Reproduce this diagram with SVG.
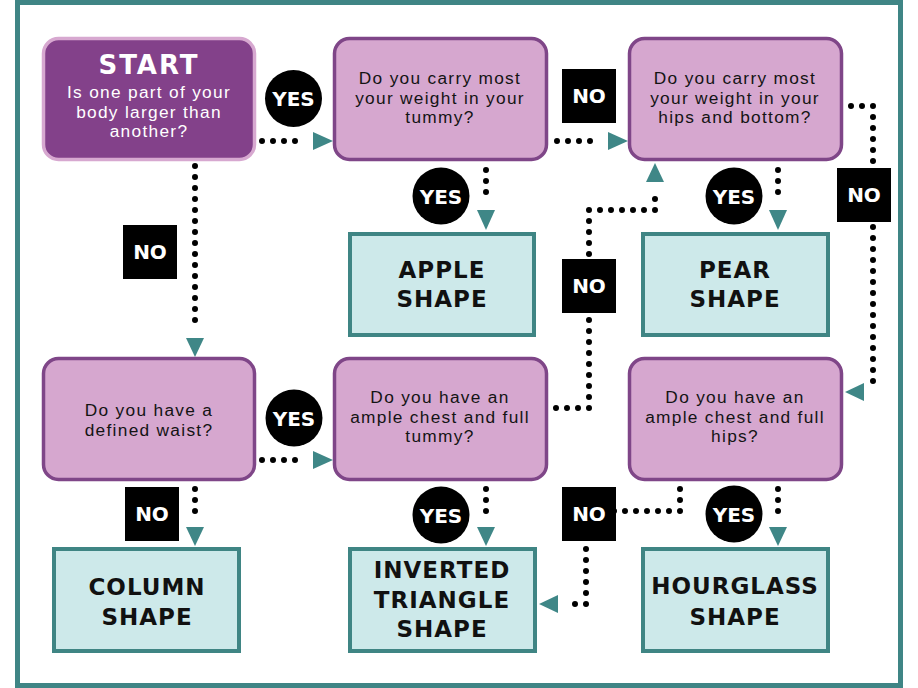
<svg xmlns="http://www.w3.org/2000/svg" width="918" height="688" viewBox="0 0 918 688">
<style>
.q{fill:#d6a7cf;stroke:#7f4688;stroke-width:3.5}
.r{fill:#cde9ea;stroke:#3f8584;stroke-width:4}
.qt{font-family:"Liberation Sans",Arial,sans-serif;font-size:17.3px;letter-spacing:1.3px;fill:#141414;text-anchor:middle}
.rt{font-family:"DejaVu Sans","Liberation Sans",sans-serif;font-weight:bold;font-size:23px;letter-spacing:1px;fill:#111;text-anchor:middle}
.lb{font-family:"DejaVu Sans","Liberation Sans",sans-serif;font-weight:bold;font-size:20px;fill:#fff;text-anchor:middle}
.c{fill:none;stroke:#000;stroke-width:6;stroke-linecap:round;stroke-dasharray:0 11}
.ah{fill:#3f8787}
</style>
<rect x="17.5" y="2.5" width="883" height="683" fill="#fff" stroke="#3f8585" stroke-width="5"/>

<g id="connectors">
<path class="c" d="M262,141 H306"/><polygon class="ah" points="313,132 333,141 313,150"/>
<path class="c" d="M557,141 H601"/><polygon class="ah" points="608,132 628,141 608,150"/>
<path class="c" d="M486,170 V203"/><polygon class="ah" points="477,210 495,210 486,230"/>
<path class="c" d="M778,170 V203"/><polygon class="ah" points="769,210 787,210 778,230"/>
<path class="c" d="M851,106 H873 V392"/><polygon class="ah" points="864,383 864,401 845,392"/>
<path class="c" d="M556,408 H589 V210 H655 V188"/><polygon class="ah" points="646,182 664,182 655,163"/>
<path class="c" d="M195,166 V331"/><polygon class="ah" points="186,338 204,338 195,357"/>
<path class="c" d="M262,460 H306"/><polygon class="ah" points="313,451 333,460 313,469"/>
<path class="c" d="M195,489 V522"/><polygon class="ah" points="186,527 204,527 195,546"/>
<path class="c" d="M486,489 V522"/><polygon class="ah" points="477,527 495,527 486,546"/>
<path class="c" d="M778,489 V522"/><polygon class="ah" points="769,527 787,527 778,546"/>
<path class="c" d="M680,489 V511 H586 V604 H564"/><polygon class="ah" points="558,595 558,613 539,604"/>
</g>

<g id="start">
<rect x="43.5" y="38.5" width="211" height="121" rx="15" fill="#83418a" stroke="#d7a8d0" stroke-width="3.5"/>
<text x="149" y="74" font-family="DejaVu Sans,Liberation Sans,sans-serif" font-weight="bold" font-size="26" letter-spacing="2" fill="#fff" text-anchor="middle">START</text>
<text class="qt" style="fill:#fff"><tspan x="149" y="98">Is one part of your</tspan><tspan x="149" y="117.5">body larger than</tspan><tspan x="149" y="137">another?</tspan></text>
</g>

<g id="q-tummy">
<rect class="q" x="334.5" y="38.5" width="212" height="121" rx="15"/>
<text class="qt"><tspan x="440" y="84">Do you carry most</tspan><tspan x="440" y="103.5">your weight in your</tspan><tspan x="440" y="123">tummy?</tspan></text>
</g>

<g id="q-hips">
<rect class="q" x="629.5" y="38.5" width="212" height="121" rx="15"/>
<text class="qt"><tspan x="735" y="84">Do you carry most</tspan><tspan x="735" y="103.5">your weight in your</tspan><tspan x="735" y="123">hips and bottom?</tspan></text>
</g>

<g id="apple">
<rect class="r" x="350" y="234" width="184" height="101"/>
<text class="rt"><tspan x="442" y="278">APPLE</tspan><tspan x="442" y="307">SHAPE</tspan></text>
</g>

<g id="pear">
<rect class="r" x="643" y="234" width="185" height="101"/>
<text class="rt"><tspan x="735" y="278">PEAR</tspan><tspan x="735" y="307">SHAPE</tspan></text>
</g>

<g id="q-waist">
<rect class="q" x="43.5" y="358.5" width="211" height="121" rx="15"/>
<text class="qt"><tspan x="149" y="416">Do you have a</tspan><tspan x="149" y="435.5">defined waist?</tspan></text>
</g>

<g id="q-chest-tummy">
<rect class="q" x="334.5" y="358.5" width="212" height="121" rx="15"/>
<text class="qt"><tspan x="440" y="403">Do you have an</tspan><tspan x="440" y="422.5">ample chest and full</tspan><tspan x="440" y="442">tummy?</tspan></text>
</g>

<g id="q-chest-hips">
<rect class="q" x="629.5" y="358.5" width="212" height="121" rx="15"/>
<text class="qt"><tspan x="735" y="403">Do you have an</tspan><tspan x="735" y="422.5">ample chest and full</tspan><tspan x="735" y="442">hips?</tspan></text>
</g>

<g id="column">
<rect class="r" x="54" y="549" width="185" height="102"/>
<text class="rt"><tspan x="147" y="595">COLUMN</tspan><tspan x="147" y="625">SHAPE</tspan></text>
</g>

<g id="inverted">
<rect class="r" x="350" y="549" width="185" height="102"/>
<text class="rt"><tspan x="442" y="578">INVERTED</tspan><tspan x="442" y="608">TRIANGLE</tspan><tspan x="442" y="637">SHAPE</tspan></text>
</g>

<g id="hourglass">
<rect class="r" x="643" y="549" width="185" height="102"/>
<text class="rt"><tspan x="735" y="594">HOURGLASS</tspan><tspan x="735" y="625">SHAPE</tspan></text>
</g>

<g id="labels">
<circle cx="293.5" cy="98.5" r="28.5"/><text class="lb" x="293.5" y="106">YES</text>
<circle cx="441" cy="196" r="28.5"/><text class="lb" x="441" y="203.5">YES</text>
<circle cx="734" cy="196" r="28.5"/><text class="lb" x="734" y="203.5">YES</text>
<circle cx="294" cy="418" r="28.5"/><text class="lb" x="294" y="425.5">YES</text>
<circle cx="441" cy="515" r="28.5"/><text class="lb" x="441" y="522.5">YES</text>
<circle cx="734" cy="514" r="28.5"/><text class="lb" x="734" y="521.5">YES</text>
<rect x="562" y="69" width="54" height="54"/><text class="lb" x="589" y="103">NO</text>
<rect x="837" y="168" width="54" height="54"/><text class="lb" x="864" y="202">NO</text>
<rect x="562" y="259" width="54" height="54"/><text class="lb" x="589" y="293">NO</text>
<rect x="123" y="225" width="54" height="54"/><text class="lb" x="150" y="259">NO</text>
<rect x="125" y="487" width="54" height="54"/><text class="lb" x="152" y="521">NO</text>
<rect x="562" y="487" width="54" height="54"/><text class="lb" x="589" y="521">NO</text>
</g>
</svg>
